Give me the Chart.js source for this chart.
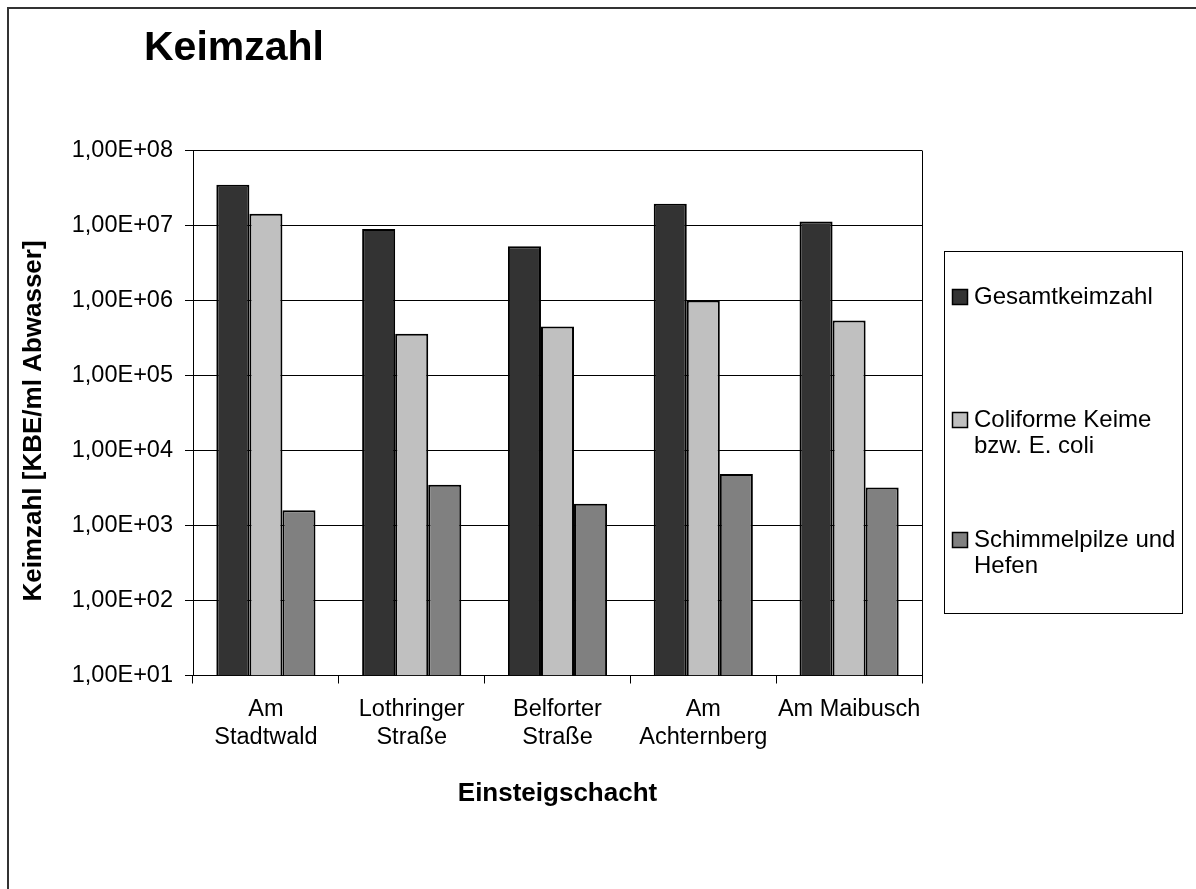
<!DOCTYPE html>
<html lang="de">
<head>
<meta charset="utf-8">
<title>Keimzahl</title>
<script src="https://cdn.jsdelivr.net/npm/chart.js@4.4.1/dist/chart.umd.min.js"></script>
<style>
  html, body { margin: 0; padding: 0; background: #fff; }
  canvas { display: block; }
</style>
</head>
<body>
<canvas id="chart" width="1196" height="889"></canvas>
<script>
// ── Data (log scale) ─────────────────────────────────────────────────────
const categories = [['Am', 'Stadtwald'], ['Lothringer', 'Straße'], ['Belforter', 'Straße'], ['Am', 'Achternberg'], ['Am Maibusch']];
const seriesNames = ['Gesamtkeimzahl', 'Coliforme Keime bzw. E. coli', 'Schimmelpilze und Hefen'];
const gesamtkeimzahl = [3.5e7, 9.0e6, 5.3e6, 1.95e7, 1.13e7];
const coliforme      = [1.43e7, 3.6e5, 4.5e5, 1.0e6, 5.4e5];
const schimmelpilze  = [1.6e3, 3.5e3, 1.95e3, 4.85e3, 3.2e3];
const tickValues = [1e1, 1e2, 1e3, 1e4, 1e5, 1e6, 1e7, 1e8];
const tickLabels = ['1,00E+01', '1,00E+02', '1,00E+03', '1,00E+04', '1,00E+05', '1,00E+06', '1,00E+07', '1,00E+08'];
const chartTitle = 'Keimzahl';
const yTitle = 'Keimzahl [KBE/ml Abwasser]';
const xTitle = 'Einsteigschacht';

const COLORS = ['#333333', '#c0c0c0', '#808080'];
const FONT = '"Liberation Sans", Arial, Helvetica, sans-serif';

Chart.defaults.font.family = FONT;
Chart.defaults.color = '#000';

// wrap legend text at word boundaries
function wrapText(ctx, text, maxW) {
  const out = [];
  let line = '';
  text.split(' ').forEach(w => {
    const t = line ? line + ' ' + w : w;
    if (line && ctx.measureText(t).width > maxW) { out.push(line); line = w; }
    else line = t;
  });
  if (line) out.push(line);
  return out;
}

// ── Frame, titles and right edge of the plot area ────────────────────────
const framePlugin = {
  id: 'frame',
  afterDraw(chart) {
    const { ctx, chartArea: a } = chart;
    ctx.save();
    // outer chart border (only left/top are inside the crop)
    ctx.strokeStyle = '#333';
    ctx.lineWidth = 2;
    ctx.beginPath();
    ctx.moveTo(8, 889); ctx.lineTo(8, 8); ctx.lineTo(1196, 8);
    ctx.stroke();

    ctx.strokeStyle = '#000';
    ctx.lineWidth = 1;
    ctx.beginPath();
    const rx = Math.round(a.right) + 0.5;
    ctx.moveTo(rx, a.top); ctx.lineTo(rx, a.bottom);
    ctx.stroke();

    ctx.fillStyle = '#000';
    ctx.font = 'bold 41px ' + FONT;
    ctx.textAlign = 'left';
    ctx.textBaseline = 'alphabetic';
    ctx.fillText(chartTitle, 144, 60);

    // y axis title, rotated
    ctx.font = 'bold 26px ' + FONT;
    ctx.textAlign = 'center';
    ctx.textBaseline = 'middle';
    ctx.translate(34, 421);
    ctx.rotate(-Math.PI / 2);
    ctx.fillText(yTitle, 0, 0);
    ctx.restore();
  }
};

// ── Boxed legend on the right (Excel style, wrapped labels) ──────────────
const boxLegend = {
  id: 'boxLegend',
  afterDraw(chart) {
    const { ctx } = chart;
    const L = 944, T = 251, R = 1182, B = 613;
    const rowY = [297, 420, 540];
    ctx.save();
    ctx.strokeStyle = '#000';
    ctx.lineWidth = 1;
    ctx.strokeRect(L + 0.5, T + 0.5, R - L, B - T);
    ctx.font = '24px ' + FONT;
    ctx.textAlign = 'left';
    ctx.textBaseline = 'middle';
    chart.data.datasets.forEach((ds, i) => {
      const y = rowY[i];
      ctx.fillStyle = ds.backgroundColor;
      ctx.fillRect(952, y - 8, 16, 16);
      ctx.lineWidth = 1.5;
      ctx.strokeRect(952.5, y - 7.5, 15, 15);
      ctx.fillStyle = '#000';
      wrapText(ctx, ds.label, 208).forEach((line, j) => ctx.fillText(line, 974, y + j * 26.7));
    });
    ctx.restore();
  }
};

const values = [gesamtkeimzahl, coliforme, schimmelpilze];

new Chart(document.getElementById('chart'), {
  type: 'bar',
  data: {
    labels: categories,
    datasets: values.map((v, i) => ({
      label: seriesNames[i],
      data: v,
      backgroundColor: COLORS[i],
      borderColor: '#000',
      borderWidth: 2,
      categoryPercentage: 0.68,
      barPercentage: 1.0,
    }))
  },
  options: {
    responsive: false,
    animation: false,
    layout: { padding: { left: 0, top: 150.5, right: 1196 - 922, bottom: 0 } },
    plugins: {
      legend: { display: false },
      title: { display: false },
      tooltip: { enabled: false },
    },
    scales: {
      x: {
        afterFit: s => { s.height = 889 - 675.5; },
        grid: { display: true, offset: true, drawOnChartArea: false, drawTicks: true, tickLength: 8, color: '#000', tickColor: '#000' },
        border: { display: true, color: '#000', width: 1 },
        ticks: { font: { size: 23.5, lineHeight: 1.2 }, padding: 12, maxRotation: 0, autoSkip: false, color: '#000' },
        title: { display: true, text: xTitle, font: { size: 26, weight: 'bold', lineHeight: 1.2 }, padding: { top: 4, bottom: 80 }, color: '#000' },
      },
      y: {
        type: 'logarithmic',
        min: 10,
        max: 1e8,
        afterFit: s => { s.width = 193; },
        afterBuildTicks: s => { s.ticks = tickValues.map(v => ({ value: v })); },
        grid: { color: '#000', tickColor: '#000', tickLength: 8, lineWidth: 1 },
        border: { display: true, color: '#000', width: 1 },
        ticks: {
          font: { size: 23.5 },
          padding: 12,
          color: '#000',
          callback: v => tickLabels[tickValues.indexOf(v)] ?? '',
        },
        title: { display: false },
      }
    }
  },
  plugins: [framePlugin, boxLegend]
});
</script>
</body>
</html>
